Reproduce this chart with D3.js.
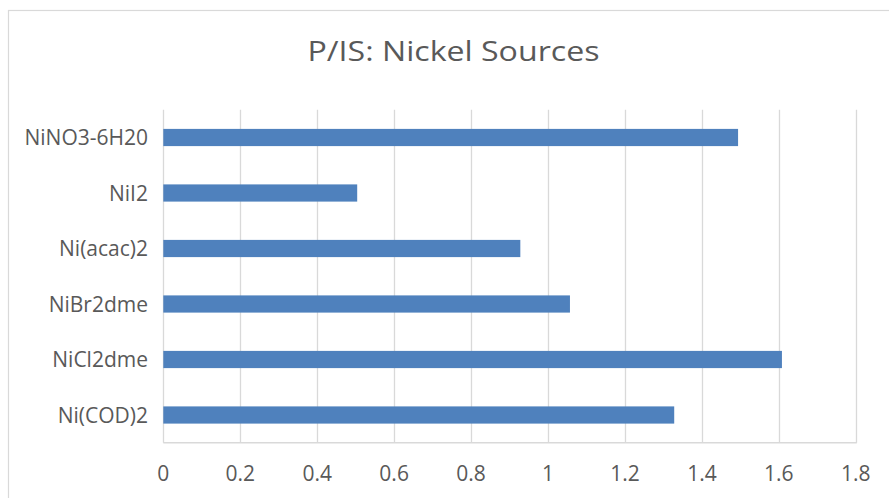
<!DOCTYPE html>
<html><head><meta charset="utf-8">
<script src="https://cdn.jsdelivr.net/npm/d3@7"></script>
<style>
html,body{margin:0;padding:0;background:#fff;}
svg{display:block;}
text{font-family:"Open Sans",sans-serif;fill:#595959;}
</style></head>
<body>
<svg id="c" width="889" height="498"></svg>
<script>
const categories = ["NiNO3-6H20","NiI2","Ni(acac)2","NiBr2dme","NiCl2dme","Ni(COD)2"];
const values = [1.494, 0.504, 0.928, 1.057, 1.608, 1.328];
const xTicks = [0,0.2,0.4,0.6,0.8,1,1.2,1.4,1.6,1.8];
const title = "P/IS: Nickel Sources";

const svg = d3.select("#c");
const L = 163.3, R = 855.8, T = 109.75, B = 442.75;

svg.append("rect").attr("x",8.5).attr("y",10.5).attr("width",900).attr("height",600)
  .attr("fill","#fff").attr("stroke","#d9d9d9").attr("stroke-width",1.2);

const x = d3.scaleLinear().domain([0,1.8]).range([L,R]);
const y = d3.scaleBand().domain(categories).range([T,B]).paddingInner(0.69).paddingOuter(0.345);

// gridlines
svg.append("g").selectAll("line").data(xTicks).join("line")
  .attr("x1",d=>Math.round(x(d))+0.5).attr("x2",d=>Math.round(x(d))+0.5)
  .attr("y1",T).attr("y2",B)
  .attr("stroke","#d9d9d9").attr("stroke-width",1.3);
// bottom axis line
svg.append("line").attr("x1",L).attr("x2",R+1).attr("y1",B).attr("y2",B)
  .attr("stroke","#d9d9d9").attr("stroke-width",1.3);

// bars
svg.append("g").selectAll("rect").data(categories).join("rect")
  .attr("x",x(0)).attr("y",d=>y(d)).attr("height",y.bandwidth())
  .attr("width",(d,i)=>x(values[i])-x(0))
  .attr("fill","#4f81bd");

// y labels
svg.append("g").selectAll("text").data(categories).join("text")
  .attr("x",148).attr("y",d=>y(d)+y.bandwidth()/2)
  .attr("dy","0.37em").attr("text-anchor","end")
  .style("font-size","21px").text(d=>d);

// x tick labels
svg.append("g").selectAll("text").data(xTicks).join("text")
  .attr("x",d=>x(d)).attr("y",480.5)
  .attr("text-anchor","middle").style("font-size","21px")
  .text(d=>d3.format("~g")(d));

svg.append("text").attr("x",453.5).attr("y",61).attr("text-anchor","middle")
  .attr("textLength",292).attr("lengthAdjust","spacingAndGlyphs")
  .style("font-size","27px").text(title);
</script>
</body></html>
